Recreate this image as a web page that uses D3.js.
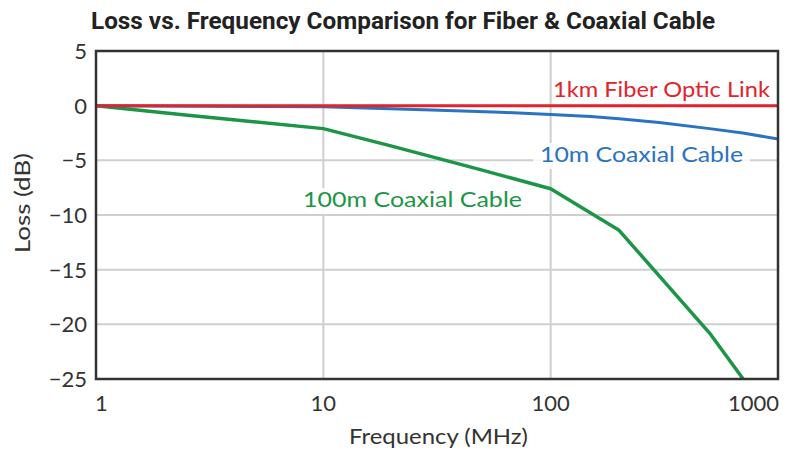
<!DOCTYPE html>
<html>
<head>
<meta charset="utf-8">
<script src="https://cdn.jsdelivr.net/npm/d3@7"></script>
<style>
  body { margin: 0; background: #fff; }
  text { font-family: Lato, "Open Sans", sans-serif; fill: #333; }
</style>
</head>
<body>
<div id="chart"></div>
<script>
// chart data
const xTicks = [1, 10, 100, 1000];
const yTicks = [5, 0, -5, -10, -15, -20, -25];

const fiberFreq = [1, 1000];
const fiberLoss = [0, 0];

const coax10Freq = [1, 3, 10, 30, 60, 100, 150, 200, 300, 500, 700, 1000];
const coax10Loss = [0, -0.05, -0.1, -0.4, -0.6, -0.8, -1.0, -1.2, -1.55, -2.1, -2.5, -3.05];

const coax100Freq = [1, 2.6, 10, 20, 50, 100, 200, 500, 720];
const coax100Loss = [0, -0.9, -2.1, -3.7, -5.9, -7.6, -11.4, -20.8, -25.3];

const width = 785, height = 452;
const margin = {top: 51, right: 7, bottom: 73, left: 96};

let svg = d3.select("#chart")
    .append("svg")
    .attr("width", width)
    .attr("height", height);

let x = d3.scaleLog()
    .domain([1, 1000])
    .range([margin.left, width - margin.right]);

let y = d3.scaleLinear()
    .domain([-25, 5])
    .range([height - margin.bottom, margin.top]);

// title
svg.append("text")
    .attr("x", 91)
    .attr("y", 29)
    .attr("textLength", 624)
    .attr("lengthAdjust", "spacingAndGlyphs")
    .style("font-family", "Roboto, sans-serif")
    .style("font-weight", "bold")
    .style("font-size", "24px")
    .style("fill", "#222")
    .text("Loss vs. Frequency Comparison for Fiber & Coaxial Cable");

// grid
svg.append("g")
    .selectAll("line.v")
    .data(xTicks.slice(1, -1))
    .enter()
    .append("line")
    .attr("x1", d => x(d)).attr("x2", d => x(d))
    .attr("y1", y(5)).attr("y2", y(-25))
    .style("stroke", "#cfcfcf")
    .style("stroke-width", 2);

svg.append("g")
    .selectAll("line.h")
    .data(yTicks.slice(1, -1))
    .enter()
    .append("line")
    .attr("x1", x(1)).attr("x2", x(1000))
    .attr("y1", d => y(d)).attr("y2", d => y(d))
    .style("stroke", "#cfcfcf")
    .style("stroke-width", 2);

// y tick labels
svg.append("g")
    .selectAll("text")
    .data(yTicks)
    .enter()
    .append("text")
    .attr("x", 87)
    .attr("y", d => y(d))
    .attr("dy", "0.36em")
    .style("text-anchor", "end")
    .style("font-size", "22px")
    .text(d => d < 0 ? "\u2212" + Math.abs(d) : d);

// x tick labels
svg.append("g")
    .selectAll("text")
    .data(xTicks)
    .enter()
    .append("text")
    .attr("x", (d, i) => i == 0 ? x(d) - 1 : (i == xTicks.length - 1 ? x(d) + 1 : x(d)))
    .attr("y", 411)
    .style("text-anchor", (d, i) => i == 0 ? "start" : (i == xTicks.length - 1 ? "end" : "middle"))
    .style("font-size", "22px")
    .text(d => d);

// axis titles
svg.append("text")
    .attr("x", (349 + 528) / 2)
    .attr("y", 444)
    .attr("textLength", 179)
    .attr("lengthAdjust", "spacingAndGlyphs")
    .style("text-anchor", "middle")
    .style("font-size", "21px")
    .text("Frequency (MHz)");

svg.append("text")
    .attr("transform", "translate(30, 203) rotate(-90)")
    .attr("textLength", 100)
    .attr("lengthAdjust", "spacingAndGlyphs")
    .style("text-anchor", "middle")
    .style("font-size", "21px")
    .text("Loss (dB)");

// clip for curves
svg.append("clipPath").attr("id", "plot")
    .append("rect")
    .attr("x", margin.left).attr("y", margin.top)
    .attr("width", width - margin.left - margin.right)
    .attr("height", height - margin.top - margin.bottom);

let line = d3.line()
    .x(d => x(d[0]))
    .y(d => y(d[1]));

const series = [
  {f: coax100Freq, l: coax100Loss, color: "#1d9546", w: 3.5},
  {f: coax10Freq, l: coax10Loss, color: "#2a73c0", w: 3},
  {f: fiberFreq, l: fiberLoss, color: "#e3232b", w: 3}
];

let curves = svg.append("g").attr("clip-path", "url(#plot)");
series.forEach(s => {
  curves.append("path")
      .datum(d3.zip(s.f, s.l))
      .attr("d", line)
      .style("fill", "none")
      .style("stroke", s.color)
      .style("stroke-width", s.w)
      .style("stroke-linejoin", "round");
});

// series labels
const labels = [
  {text: "1km Fiber Optic Link", x: 553, y: 97, len: 217, color: "#e3232b", bg: false},
  {text: "10m Coaxial Cable", x: 540, y: 162, len: 203, color: "#2a73c0", bg: true},
  {text: "100m Coaxial Cable", x: 303, y: 207, len: 219, color: "#1d9546", bg: true}
];

labels.forEach(d => {
  if (d.bg) {
    svg.append("rect")
        .attr("x", d.x - 7).attr("y", d.y - 19)
        .attr("width", d.len + 14).attr("height", 26)
        .style("fill", "#fff")
        .style("opacity", 0.85);
  }
  svg.append("text")
      .attr("x", d.x)
      .attr("y", d.y)
      .attr("textLength", d.len)
      .attr("lengthAdjust", "spacingAndGlyphs")
      .style("font-size", "22px")
      .style("fill", d.color)
      .text(d.text);
});

// frame
svg.append("rect")
    .attr("x", margin.left)
    .attr("y", margin.top)
    .attr("width", width - margin.left - margin.right)
    .attr("height", height - margin.top - margin.bottom)
    .style("fill", "none")
    .style("stroke", "#333")
    .style("stroke-width", 2.5);
</script>
</body>
</html>
